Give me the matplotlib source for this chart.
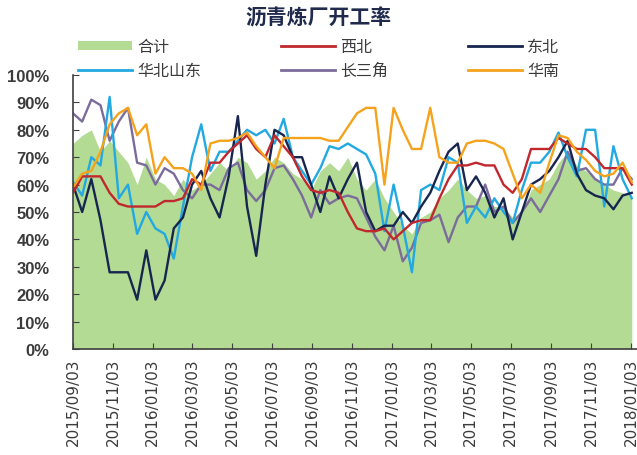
import numpy as np
import pandas as pd
import matplotlib
matplotlib.use("Agg")
import matplotlib.pyplot as plt
import matplotlib.dates as mdates
from matplotlib.patches import Patch
from matplotlib.lines import Line2D
from matplotlib.ticker import MultipleLocator, PercentFormatter

plt.rcParams["font.family"] = ["Liberation Sans", "Noto Sans CJK SC", "DejaVu Sans"]

# ── data (biweekly, %) ────────────────────────────────────────────────────────
dates = pd.date_range("2015-09-03", periods=62, freq="14D")

total = [75, 78, 80, 72, 76, 72, 68, 60, 70, 62, 60, 56, 62, 58, 60, 64, 68, 65, 70, 68,
         62, 65, 70, 68, 64, 62, 58, 65, 68, 65, 70, 62, 58, 62, 55, 50, 45, 42, 48, 50,
         55, 58, 62, 58, 55, 56, 52, 52, 48, 50, 58, 60, 62, 68, 72, 67, 65, 62, 60, 58,
         57, 56]

northwest = [57, 63, 63, 63, 57, 53, 52, 52, 52, 52, 54, 54, 55, 62, 60, 68, 68, 72, 75, 78,
             73, 70, 78, 74, 70, 63, 58, 57, 58, 57, 50, 44, 43, 43, 44, 40, 43, 46, 47, 47,
             55, 62, 67, 67, 68, 67, 67, 60, 57, 62, 73, 73, 73, 77, 75, 73, 73, 70, 66, 66,
             66, 60]

northeast = [60, 50, 62, 47, 28, 28, 28, 18, 36, 18, 25, 44, 48, 60, 65, 55, 48, 63, 85, 52,
             34, 60, 80, 78, 70, 70, 60, 50, 63, 55, 62, 68, 50, 43, 45, 45, 50, 46, 52, 57,
             65, 72, 75, 58, 63, 57, 48, 55, 40, 50, 60, 62, 65, 70, 76, 64, 58, 56, 55, 51,
             56, 57]

north_sd = [61, 56, 70, 67, 92, 55, 60, 42, 50, 44, 42, 33, 52, 70, 82, 65, 72, 72, 76, 80,
            78, 80, 75, 84, 70, 65, 60, 66, 74, 73, 75, 73, 71, 64, 43, 60, 45, 28, 58, 60,
            58, 70, 68, 46, 52, 48, 55, 50, 46, 58, 68, 68, 72, 79, 70, 63, 80, 80, 52, 74,
            62, 55]

yangtze = [86, 83, 91, 89, 76, 83, 88, 68, 67, 60, 66, 64, 58, 55, 60, 60, 58, 66, 68, 58,
           54, 58, 66, 67, 62, 56, 48, 58, 53, 55, 56, 55, 48, 41, 36, 45, 32, 37, 46, 47,
           49, 39, 48, 52, 52, 60, 50, 52, 46, 50, 55, 50, 56, 62, 72, 65, 66, 62, 60, 60,
           66, 62]

south = [59, 64, 65, 72, 82, 86, 88, 78, 82, 64, 70, 66, 66, 64, 58, 75, 76, 76, 77, 79,
         74, 70, 66, 77, 77, 77, 77, 77, 76, 76, 81, 86, 88, 88, 60, 88, 80, 73, 73, 88,
         70, 68, 68, 75, 76, 76, 75, 73, 64, 55, 60, 57, 68, 78, 77, 72, 69, 65, 63, 64,
         68, 61]

tick_dates = pd.date_range("2015-09-01", "2018-01-01", freq="2MS") + pd.Timedelta(days=2)

# ── styles ────────────────────────────────────────────────────────────────────
C_TOTAL = "#b3db94"
C_NW = "#c0282d"
C_NE = "#17264f"
C_NSD = "#22a9e1"
C_YZ = "#7b6c9c"
C_S = "#f5a21c"
TXT = "#3b3b3b"
CJK = ["Noto Sans CJK SC", "DejaVu Sans"]

fig = plt.figure(figsize=(6.37, 4.56), dpi=100)
ax = fig.add_axes([73 / 637, 1 - 350 / 456, 1 - 73 / 637, 274 / 456])

ax.fill_between(dates, 0, total, color=C_TOTAL, linewidth=0)
lw = 1.7
ax.plot(dates, yangtze, color=C_YZ, lw=lw)
ax.plot(dates, north_sd, color=C_NSD, lw=lw)
ax.plot(dates, northeast, color=C_NE, lw=lw)
ax.plot(dates, northwest, color=C_NW, lw=lw)
ax.plot(dates, south, color=C_S, lw=lw)

ax.set_xlim(pd.Timestamp("2015-09-03"), pd.Timestamp("2018-01-12"))
ax.set_ylim(0, 100)
ax.yaxis.set_major_locator(MultipleLocator(10))
ax.yaxis.set_major_formatter(PercentFormatter(decimals=0))
ax.set_xticks(tick_dates)
ax.xaxis.set_major_formatter(mdates.DateFormatter("%Y/%m/%d"))

for s in ("top", "right"):
    ax.spines[s].set_visible(False)
for s in ("left", "bottom"):
    ax.spines[s].set_color("#404040")
    ax.spines[s].set_linewidth(1.2)

ax.tick_params(axis="y", direction="in", length=4, color="#404040",
               labelsize=12, labelcolor=TXT, pad=17)
ax.tick_params(axis="x", direction="in", length=4, color="#404040",
               labelsize=11, labelcolor=TXT, rotation=90, pad=6)
for lbl in ax.get_yticklabels():
    lbl.set_fontweight("bold")
for lbl in ax.get_xticklabels():
    lbl.set_family("DejaVu Sans")

fig.text(0.5, 1 - 18 / 456, "沥青炼厂开工率", ha="center", va="center",
         fontsize=15, fontweight="bold", color="#1f2a4d", family=CJK)

# legend, column-major order for ncol=3
handles = [
    Patch(facecolor=C_TOTAL, edgecolor="none"),
    Line2D([], [], color=C_NSD, lw=2),
    Line2D([], [], color=C_NW, lw=2),
    Line2D([], [], color=C_YZ, lw=2),
    Line2D([], [], color=C_NE, lw=2),
    Line2D([], [], color=C_S, lw=2),
]
labels = ["合计", "华北山东", "西北", "长三角", "东北", "华南"]
leg = fig.legend(handles, labels, ncol=3, frameon=False, loc="upper left",
                 bbox_to_anchor=(78 / 637, 1 - 39 / 456),
                 prop={"family": CJK, "size": 11.5},
                 handlelength=3.4, handleheight=0.45, handletextpad=0.3,
                 columnspacing=5.0, labelspacing=0.45, borderaxespad=0,
                 borderpad=0)
for t in leg.get_texts():
    t.set_color(TXT)

fig.savefig("out.png", dpi=100)
